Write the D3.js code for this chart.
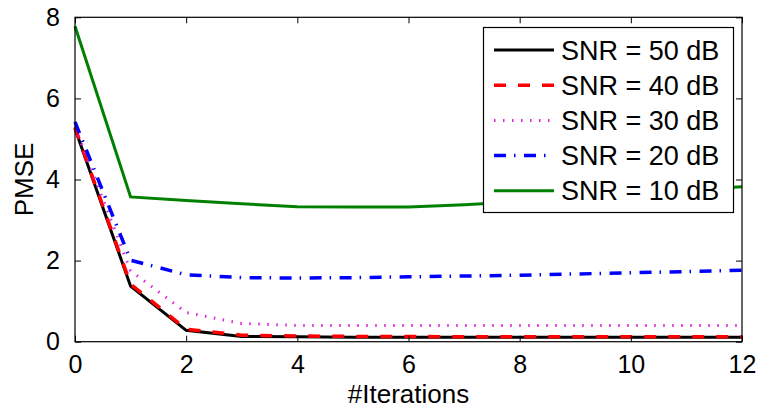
<!DOCTYPE html>
<html>
<head>
<meta charset="utf-8">
<script src="https://cdn.jsdelivr.net/npm/d3@7"></script>
<style>
body { margin: 0; background: #fff; }
text { font-family: "Liberation Sans", Arial, sans-serif; fill: #000; }
</style>
</head>
<body>
<svg width="760" height="411"></svg>
<script>
var iterations = [0, 1, 2, 3, 4, 5, 6, 7, 8, 9, 10, 11, 12];
var snr50 = [5.25, 1.37, 0.28, 0.13, 0.12, 0.11, 0.11, 0.11, 0.11, 0.11, 0.11, 0.11, 0.11];
var snr40 = [5.28, 1.42, 0.31, 0.16, 0.14, 0.13, 0.13, 0.12, 0.12, 0.12, 0.12, 0.12, 0.12];
var snr30 = [5.30, 1.75, 0.72, 0.45, 0.40, 0.40, 0.40, 0.40, 0.40, 0.40, 0.40, 0.40, 0.40];
var snr20 = [5.42, 2.01, 1.65, 1.58, 1.57, 1.58, 1.60, 1.62, 1.64, 1.67, 1.70, 1.73, 1.76];
var snr10 = [7.78, 3.57, 3.48, 3.40, 3.33, 3.32, 3.32, 3.38, 3.45, 3.55, 3.65, 3.74, 3.82];
var xTicks = [0, 2, 4, 6, 8, 10, 12];
var yTicks = [0, 2, 4, 6, 8];

var series = [
    {name: "SNR = 50 dB", values: snr50, color: "#000000", width: 3, dash: null},
    {name: "SNR = 40 dB", values: snr40, color: "#ff0000", width: 3.5, dash: "12,12"},
    {name: "SNR = 30 dB", values: snr30, color: "#dd22dd", width: 3, dash: "1.5,7.5"},
    {name: "SNR = 20 dB", values: snr20, color: "#0000ff", width: 3.5, dash: "12,8,1.5,8.5"},
    {name: "SNR = 10 dB", values: snr10, color: "#008000", width: 3, dash: null}
];

var svg = d3.select("svg");
var pLeft = 75, pRight = 742, pTop = 17.3, pBottom = 341.7;

var x = d3.scaleLinear().domain([0, 12]).range([pLeft, pRight]);
var y = d3.scaleLinear().domain([0, 8]).range([pBottom, pTop]);

var line = d3.line().x(function (d, i) { return x(iterations[i]); }).y(function (d) { return y(d); });

svg.append("g").selectAll(".series").data(series).enter().append("path").attr("class", "series")
    .attr("d", function (d) { return line(d.values); })
    .style("fill", "none")
    .style("stroke", function (d) { return d.color; })
    .style("stroke-width", function (d) { return d.width; })
    .style("stroke-dasharray", function (d) { return d.dash; });

// box + inward ticks on all four sides
var axisG = svg.append("g");
axisG.append("rect").attr("x", pLeft).attr("y", pTop).attr("width", pRight - pLeft).attr("height", pBottom - pTop)
    .style("fill", "none").style("stroke", "#000").style("stroke-width", 1.2);

axisG.append("g").attr("transform", "translate(0," + pBottom + ")")
    .call(d3.axisBottom(x).tickValues(xTicks).tickSize(-6).tickPadding(14).tickFormat(d3.format("d")));
axisG.append("g").attr("transform", "translate(0," + pTop + ")")
    .call(d3.axisTop(x).tickValues(xTicks).tickSize(-6).tickFormat(""));
axisG.append("g").attr("transform", "translate(" + pLeft + ",0)")
    .call(d3.axisLeft(y).tickValues(yTicks).tickSize(-6).tickPadding(15).tickFormat(d3.format("d")));
axisG.append("g").attr("transform", "translate(" + pRight + ",0)")
    .call(d3.axisRight(y).tickValues(yTicks).tickSize(-6).tickFormat(""));

axisG.selectAll(".domain").remove();
axisG.selectAll(".tick line").style("stroke", "#000").style("stroke-width", 1);
axisG.selectAll(".tick text").style("font-size", "25px").style("font-family", "Liberation Sans, Arial, sans-serif").style("fill", "#000");

svg.append("text").attr("x", x(6)).attr("y", 403).attr("text-anchor", "middle")
    .style("font-size", "26px").text("#Iterations");
svg.append("text").attr("transform", "translate(33," + y(4) + ") rotate(-90)").attr("text-anchor", "middle")
    .style("font-size", "26px").text("PMSE");

// legend
var legend = svg.append("g");
legend.append("rect").attr("x", 483.5).attr("y", 27.5).attr("width", 250).attr("height", 185)
    .style("fill", "#fff").style("stroke", "#000").style("stroke-width", 1.2);
var rows = legend.selectAll(".row").data(series).enter().append("g").attr("class", "row")
    .attr("transform", function (d, i) { return "translate(0," + (50 + i * 35.2) + ")"; });
rows.append("line").attr("x1", 494).attr("x2", 554).attr("y1", 0).attr("y2", 0)
    .style("stroke", function (d) { return d.color; })
    .style("stroke-width", function (d) { return d.width; })
    .style("stroke-dasharray", function (d) { return d.dash; });
rows.append("text").attr("x", 561).attr("y", 9.5).style("font-size", "27px")
    .text(function (d) { return d.name; });
</script>
</body>
</html>
